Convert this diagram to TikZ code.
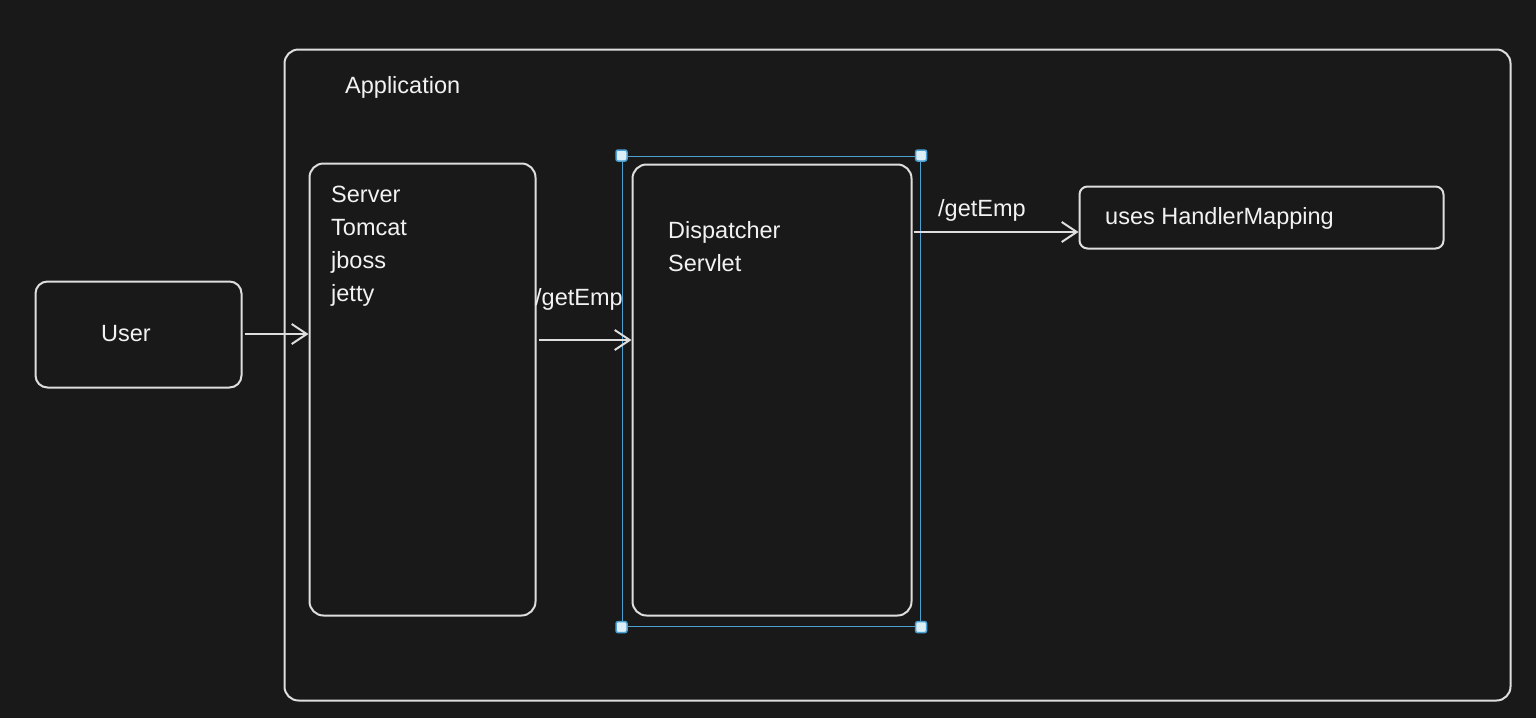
\documentclass[tikz,border=0pt]{standalone}
\usepackage{fontspec}
\setmainfont{Liberation Sans}
\usetikzlibrary{arrows.meta}
\definecolor{bg}{RGB}{25,25,25}
\definecolor{ln}{RGB}{222,222,222}
\definecolor{tx}{RGB}{242,242,242}
\definecolor{selc}{RGB}{74,160,210}
\begin{document}
\begin{tikzpicture}[x=1pt,y=-1pt,
  box/.style={draw=ln, line width=2pt, rounded corners=14pt, anchor=north west, inner sep=0pt},
  txt/.style={text=tx, font=\fontsize{23.5}{28}\selectfont, anchor=base west, inner sep=0pt},
  arr/.style={draw=ln, line width=2pt, -{Straight Barb[length=15pt,width=20pt,line width=2pt]}},
  handle/.style={draw=selc, fill=white!82!selc, line width=1.5pt, minimum size=11pt, inner sep=0pt, rounded corners=2pt}]
\fill[bg] (0,0) rectangle (1536,718);
\useasboundingbox (0,0) rectangle (1536,718);
% application frame
\node[box, minimum width=1226pt, minimum height=651pt] (app) at (283.5,48.5) {};
\node[txt] (apptxt) at (345,93) {Application};
% user
\node[box, rounded corners=12pt, minimum width=206pt, minimum height=106pt] (user) at (34.5,280.5) {};
\node[txt, anchor=base] (usertxt) at (126,341) {User};
% server
\node[box, minimum width=226pt, minimum height=452pt] (server) at (308.5,162.5) {};
\node[txt] (s1) at (331,202) {Server};
\node[txt] (s2) at (331,235) {Tomcat};
\node[txt] (s3) at (331,268) {jboss};
\node[txt] (s4) at (331,301) {jetty};
% dispatcher
\node[box, minimum width=279pt, minimum height=451pt] (disp) at (631.5,163.5) {};
\node[txt] (d1) at (668,238) {Dispatcher};
\node[txt] (d2) at (668,271) {Servlet};
% selection
\node[draw=selc, line width=1.6pt, anchor=north west, minimum width=298pt, minimum height=470pt, inner sep=0pt] (selbox) at (621.5,155.5) {};
\node[handle] (h1) at (selbox.north west) {};
\node[handle] (h2) at (selbox.north east) {};
\node[handle] (h3) at (selbox.south west) {};
\node[handle] (h4) at (selbox.south east) {};
% handler mapping
\node[box, rounded corners=8pt, minimum width=364pt, minimum height=62pt] (hm) at (1078.5,185.5) {};
\node[txt] (hmtxt) at (1105,224) {uses HandlerMapping};
% connectors
\coordinate (ya) at (0,334);
\coordinate (yb) at (0,340);
\coordinate (yc) at (0,232);
\draw[arr] ([xshift=2pt]user.east |- ya) -- (server.west |- ya);
\draw[arr] ([xshift=2pt]server.east |- yb) -- (disp.west |- yb);
\draw[arr] ([xshift=1pt]disp.east |- yc) -- (hm.west |- yc);
\node[txt] (l1) at (535,305) {/getEmp};
\node[txt] (l2) at (938,216) {/getEmp};
\end{tikzpicture}
\end{document}
